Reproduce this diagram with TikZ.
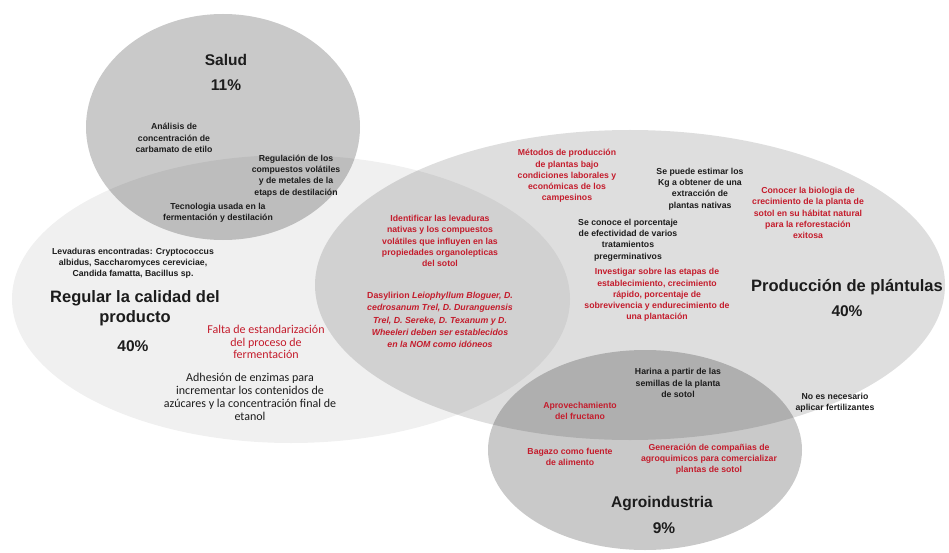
\documentclass[tikz,border=0pt]{standalone}
\usepackage{fontspec}
\setmainfont{Liberation Sans}
\newfontfamily\carlito{Carlito}
\usepackage{tikz}
\usetikzlibrary{shapes.geometric}
\definecolor{rojo}{RGB}{196,28,44}
\definecolor{tinta}{RGB}{28,28,28}
\newcommand{\datoSize}[0]{\fontsize{8.7}{11.2}\selectfont}

\begin{document}
\begin{tikzpicture}[x=1pt, y=-1pt]
  \tikzset{area/.style={ellipse, fill=black, inner sep=0pt},
    dato/.style={align=center, font=\bfseries\datoSize, text=tinta, inner sep=0pt},
    datoRojo/.style={dato, text=rojo},
    nota/.style={align=center, font=\carlito\fontsize{12}{12.8}\selectfont, text=tinta, inner sep=0pt},
    titulo/.style={align=center, font=\bfseries\fontsize{15.5}{20}\selectfont, text=tinta, inner sep=0pt},
    tituloLargo/.style={titulo, font=\bfseries\fontsize{16.5}{20}\selectfont}}
  \useasboundingbox (0,0) rectangle (949,553);
  \node[area, fill opacity=0.06, minimum width=558, minimum height=288] (regular) at (291,299) {};
  \node[area, fill opacity=0.13, minimum width=630, minimum height=310] (plantulas) at (630,285) {};
  \node[area, fill opacity=0.21, minimum width=274, minimum height=226] (salud) at (223,127) {};
  \node[area, fill opacity=0.21, minimum width=314, minimum height=200] (agro) at (645,450) {};

  \node[titulo] (salud-t) at (226,60) {Salud};
  \node[titulo] (salud-p) at (226,85) {11\%};
  \node[dato] (salud-1) at (174,138) {Análisis de\\concentración de\\carbamato de etilo};
  \node[dato] (salud-2) at (296,176) {Regulación de los\\compuestos volátiles\\y de metales de la\\etaps de destilación};
  \node[dato] (salud-3) at (218,213) {Tecnologia usada en la\\fermentación y destilación};

  \node[dato] (regular-1) at (133,263) {Levaduras encontradas: Cryptococcus\\albidus, Saccharomyces cereviciae,\\Candida famatta, Bacillus sp.};
  \node[tituloLargo] (regular-t) at (135,308) {Regular la calidad del\\producto};
  \node[titulo] (regular-p) at (133,346) {40\%};
  \node[nota, text=rojo] (regular-2) at (266,342) {Falta de estandarización\\del proceso de\\fermentación};
  \node[nota] (regular-3) at (250,397) {Adhesión de enzimas para\\incrementar los contenidos de\\azúcares y la concentración final de\\etanol};

  \node[datoRojo] (medio-1) at (440,241) {Identificar las levaduras\\nativas y los compuestos\\volátiles que influyen en las\\propiedades organolepticas\\del sotol};
  \node[datoRojo, font=\bfseries\fontsize{8.8}{12.3}\selectfont] (medio-2) at (440,320) {Dasylirion \textit{Leiophyllum Bloguer, D.}\\\textit{cedrosanum Trel, D. Duranguensis}\\\textit{Trel, D. Sereke, D. Texanum y D.}\\\textit{Wheeleri deben ser establecidos}\\\textit{en la NOM como idóneos}};

  \node[datoRojo] (plantulas-1) at (567,176) {Métodos de producción\\de plantas bajo\\condiciones  laborales y\\económicas de los\\campesinos};
  \node[dato] (plantulas-2) at (700,189) {Se puede estimar los\\Kg a obtener de una\\extracción de\\plantas nativas};
  \node[datoRojo] (plantulas-3) at (808,213) {Conocer la biologia de\\crecimiento de la planta de\\sotol en su hábitat natural\\para la reforestación\\exitosa};
  \node[dato] (plantulas-4) at (628,240) {Se conoce el porcentaje\\de efectividad de varios\\tratamientos\\pregerminativos};
  \node[datoRojo] (plantulas-5) at (657,295) {Investigar sobre las etapas de\\establecimiento, crecimiento\\rápido, porcentaje de\\sobrevivencia y endurecimiento de\\una plantación};
  \node[tituloLargo] (plantulas-t) at (847,287) {Producción de plántulas};
  \node[titulo] (plantulas-p) at (847,311) {40\%};
  \node[dato] (plantulas-6) at (835,403) {No es necesario\\aplicar fertilizantes};

  \node[dato] (agro-1) at (678,383) {Harina a partir de las\\semillas de la planta\\de sotol};
  \node[datoRojo] (agro-2) at (580,411) {Aprovechamiento\\del fructano};
  \node[datoRojo] (agro-3) at (570,457) {Bagazo como fuente\\de alimento};
  \node[datoRojo] (agro-4) at (709,459) {Generación de compañias de\\agroquimicos para comercializar\\plantas de sotol};
  \node[titulo] (agro-t) at (662,504) {Agroindustria};
  \node[titulo] (agro-p) at (664,528) {9\%};
\end{tikzpicture}
\end{document}
